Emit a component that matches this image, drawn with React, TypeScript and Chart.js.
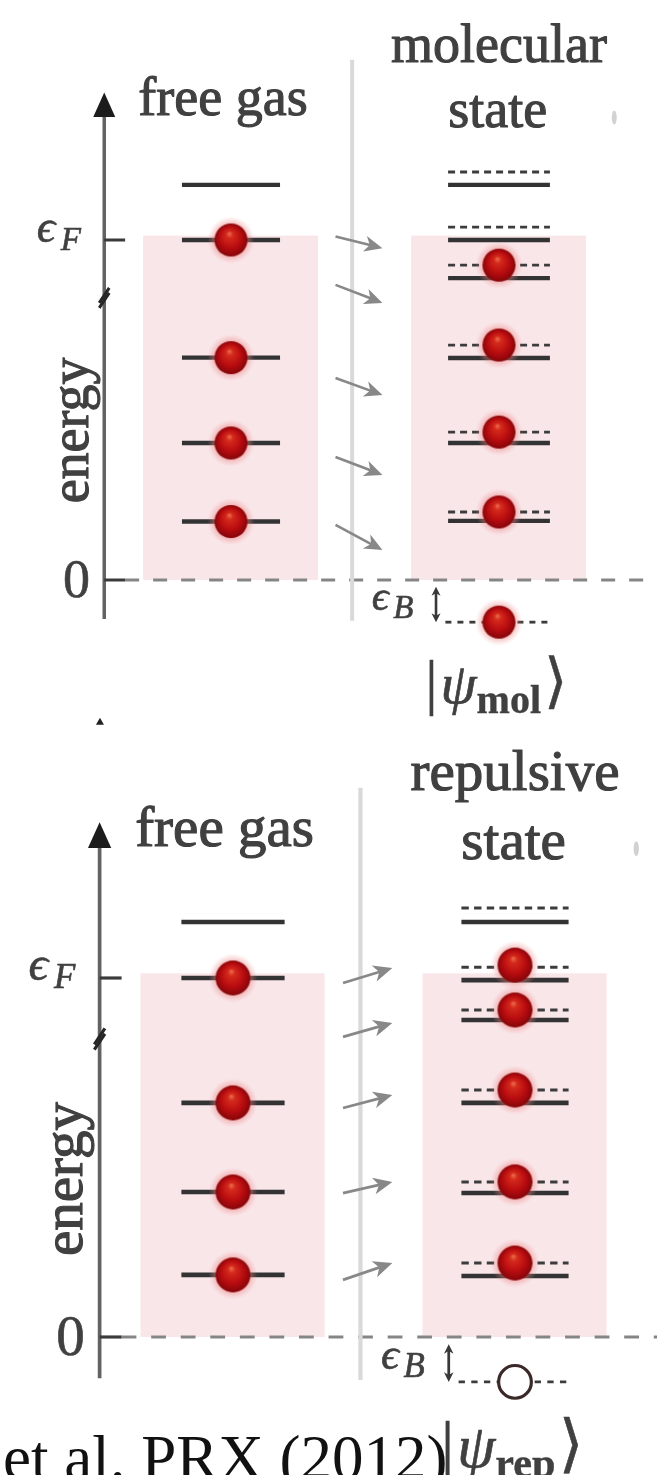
import React, { useEffect, useRef } from "react";
import { Chart, registerables } from "chart.js";

Chart.register(...registerables);

// ---------------- DATA (energies in units of the Fermi energy, 0 = threshold) ----------------
const columnX = [0, 1]; // 0 = free gas column, 1 = interacting-state column
const freeGasTitle = "free gas";
const axisTitle = "energy";
const axisTickValues = [0, 1];
const axisBreakEnergy = 0.83;
const citation = "et al. PRX (2012)";

// top panel: molecular state
const topTitle = ["molecular", "state"];
const topKetSub = "mol";
const topFreeLevels = [1.162, 1.0, 0.654, 0.403, 0.172];
const topFreeParticles = [1.0, 0.654, 0.403, 0.172];
const topSolidLevels = [1.162, 1.0, 0.888, 0.653, 0.403, 0.174];
const topDashedLevels = [1.2, 1.038, 0.926, 0.691, 0.435, 0.2];
const topStateParticles = [0.926, 0.691, 0.435, 0.2];
const topBoundLevel = -0.124;
const topBoundOccupied = true;
const topArrowFrom = [1.01, 0.868, 0.594, 0.362, 0.162];
const topArrowTo = [0.976, 0.815, 0.544, 0.309, 0.088];

// bottom panel: repulsive state
const bottomTitle = ["repulsive", "state"];
const bottomKetSub = "rep";
const bottomFreeLevels = [1.156, 1.0, 0.652, 0.404, 0.173];
const bottomFreeParticles = [1.0, 0.652, 0.404, 0.173];
const bottomSolidLevels = [1.156, 0.994, 0.883, 0.652, 0.401, 0.17];
const bottomDashedLevels = [1.195, 1.03, 0.911, 0.688, 0.432, 0.206];
const bottomStateParticles = [1.036, 0.911, 0.688, 0.432, 0.206];
const bottomBoundLevel = -0.125;
const bottomBoundOccupied = false;
const bottomArrowFrom = [0.986, 0.836, 0.638, 0.401, 0.159];
const bottomArrowTo = [1.028, 0.875, 0.674, 0.432, 0.206];

// ---------------- LAYOUT / STYLE ----------------
const W = 657;
const SERIF = '"Liberation Serif", "DejaVu Serif", serif';
const TEXT = "#404040";

type Panel = {
  title: string[];
  ketSub: string;
  freeLevels: number[];
  freeParticles: number[];
  solid: number[];
  dashed: number[];
  stateParticles: number[];
  bound: number;
  boundOccupied: boolean;
  arrowFrom: number[];
  arrowTo: number[];
  top: number;
  height: number;
  zeroPx: number;
  unitPx: number;
  originPx: number;
  colPx: number;
};

const panels: Panel[] = [
  {
    title: topTitle, ketSub: topKetSub, freeLevels: topFreeLevels, freeParticles: topFreeParticles,
    solid: topSolidLevels, dashed: topDashedLevels, stateParticles: topStateParticles,
    bound: topBoundLevel, boundOccupied: topBoundOccupied, arrowFrom: topArrowFrom, arrowTo: topArrowTo,
    top: 0, height: 737, zeroPx: 580, unitPx: 340, originPx: 231, colPx: 268,
  },
  {
    title: bottomTitle, ketSub: bottomKetSub, freeLevels: bottomFreeLevels, freeParticles: bottomFreeParticles,
    solid: bottomSolidLevels, dashed: bottomDashedLevels, stateParticles: bottomStateParticles,
    bound: bottomBoundLevel, boundOccupied: bottomBoundOccupied, arrowFrom: bottomArrowFrom, arrowTo: bottomArrowTo,
    top: 737, height: 738, zeroPx: 600, unitPx: 359, originPx: 233, colPx: 282,
  },
];

const AXIS_X = -0.473;

function makeSphere(r: number): HTMLCanvasElement {
  const pad = 7;
  const s = Math.ceil((r + pad) * 2);
  const c = document.createElement("canvas");
  c.width = s;
  c.height = s;
  const g = c.getContext("2d")!;
  const cx = s / 2, cy = s / 2;
  const glow = g.createRadialGradient(cx, cy, r * 0.8, cx, cy, r + pad);
  glow.addColorStop(0, "rgba(235,110,110,0.65)");
  glow.addColorStop(1, "rgba(240,150,150,0)");
  g.fillStyle = glow;
  g.beginPath();
  g.arc(cx, cy, r + pad, 0, Math.PI * 2);
  g.fill();
  const sph = g.createRadialGradient(cx - r * 0.1, cy - r * 0.4, 0, cx, cy, r * 1.05);
  sph.addColorStop(0, "#ee7250");
  sph.addColorStop(0.2, "#d42a1c");
  sph.addColorStop(0.62, "#b80c10");
  sph.addColorStop(1, "#7e0509");
  g.fillStyle = sph;
  g.beginPath();
  g.arc(cx, cy, r, 0, Math.PI * 2);
  g.fill();
  return c;
}

function line(ctx: CanvasRenderingContext2D, x1: number, y1: number, x2: number, y2: number) {
  ctx.beginPath();
  ctx.moveTo(x1, y1);
  ctx.lineTo(x2, y2);
  ctx.stroke();
}

function arrowHead(ctx: CanvasRenderingContext2D, x1: number, y1: number, x2: number, y2: number, len: number, half: number, color: string) {
  const a = Math.atan2(y2 - y1, x2 - x1);
  ctx.save();
  ctx.translate(x2, y2);
  ctx.rotate(a);
  ctx.beginPath();
  ctx.moveTo(0, 0);
  ctx.lineTo(-len, -half);
  ctx.lineTo(-len * 0.72, 0);
  ctx.lineTo(-len, half);
  ctx.closePath();
  ctx.fillStyle = color;
  ctx.fill();
  ctx.restore();
}

function heavyText(ctx: CanvasRenderingContext2D, s: string, x: number, y: number, w: number) {
  ctx.fillText(s, x, y);
  ctx.lineWidth = w;
  ctx.strokeText(s, x, y);
}

function makePlugin(p: Panel) {
  const k = p.unitPx / 340;
  return {
    id: "levelDiagram",
    beforeDatasetsDraw(chart: any) {
      const ctx: CanvasRenderingContext2D = chart.ctx;
      const X = (v: number) => chart.scales.x.getPixelForValue(v);
      const Y = (v: number) => chart.scales.y.getPixelForValue(v);
      ctx.save();
      ctx.lineCap = "butt";

      // shaded Fermi sea
      ctx.fillStyle = "#f9e6e9";
      for (const c of columnX) {
        const x0 = X(c - 0.328), x1 = X(c + 0.325);
        ctx.fillRect(x0, Y(1.013), x1 - x0, Y(0) - Y(1.013));
      }

      // zero (threshold) dashed line
      ctx.strokeStyle = "#858585";
      ctx.lineWidth = 3 * k;
      ctx.setLineDash([14 * k, 14 * k]);
      line(ctx, X(AXIS_X + 0.078), Y(0), chart.width, Y(0));
      ctx.setLineDash([]);

      // divider
      ctx.strokeStyle = "#d9d9d9";
      ctx.lineWidth = 4 * k;
      line(ctx, X(0.452), Y(1.53), X(0.452), Y(-0.12));

      // energy axis
      const ax = X(AXIS_X);
      ctx.strokeStyle = "#626262";
      ctx.lineWidth = 3.5 * k;
      line(ctx, ax, Y(-0.115), ax, Y(1.37));
      ctx.fillStyle = "#1c1c1c";
      ctx.beginPath();
      ctx.moveTo(ax, Y(1.434));
      ctx.lineTo(ax - 11 * k, Y(1.362));
      ctx.lineTo(ax + 11 * k, Y(1.362));
      ctx.closePath();
      ctx.fill();
      // ticks
      ctx.strokeStyle = "#3a3a3a";
      ctx.lineWidth = 3 * k;
      for (const t of axisTickValues) line(ctx, ax, Y(t), X(AXIS_X + 0.078), Y(t));
      // axis break
      ctx.strokeStyle = "#262626";
      ctx.lineWidth = 3 * k;
      const yb = Y(axisBreakEnergy);
      line(ctx, ax - 5 * k, yb + 5 * k, ax + 5 * k, yb - 10 * k);
      line(ctx, ax - 5 * k, yb + 10 * k, ax + 5 * k, yb - 5 * k);
      // stray mark at bottom-left of upper panel
      if (p.top === 0) {
        ctx.fillStyle = "#222";
        ctx.beginPath();
        ctx.moveTo(X(-0.489), Y(-0.405));
        ctx.lineTo(X(-0.489) - 4, Y(-0.405) + 7);
        ctx.lineTo(X(-0.489) + 4, Y(-0.405) + 7);
        ctx.closePath();
        ctx.fill();
      }
      // faint clipped glyph at right edge
      ctx.fillStyle = "#d2d2d2";
      ctx.beginPath();
      ctx.ellipse(X(1.43), Y(1.36), 2.5 * k, 7 * k, 0, 0, Math.PI * 2);
      ctx.fill();

      // free gas levels
      ctx.strokeStyle = "#333333";
      ctx.lineWidth = 4.4 * k;
      for (const e of p.freeLevels) line(ctx, X(columnX[0] - 0.183), Y(e), X(columnX[0] + 0.183), Y(e));
      // state levels
      for (const e of p.solid) line(ctx, X(columnX[1] - 0.19), Y(e), X(columnX[1] + 0.19), Y(e));
      ctx.strokeStyle = "#3c3c3c";
      ctx.lineWidth = 2.8 * k;
      ctx.setLineDash([7 * k, 5 * k]);
      for (const e of p.dashed) line(ctx, X(columnX[1] - 0.19), Y(e), X(columnX[1] + 0.19), Y(e));
      // bound level
      ctx.setLineDash([6 * k, 6 * k]);
      line(ctx, X(columnX[1] - 0.2), Y(p.bound), X(columnX[1] + 0.19), Y(p.bound));
      ctx.setLineDash([]);

      // epsilon_B double arrow
      const xb = X(0.765);
      ctx.strokeStyle = "#383838";
      ctx.lineWidth = 2.6 * k;
      line(ctx, xb, Y(-0.02) + 5 * k, xb, Y(p.bound) - 5 * k);
      arrowHead(ctx, xb, Y(-0.06), xb, Y(-0.02), 9 * k, 4.5 * k, "#383838");
      arrowHead(ctx, xb, Y(-0.06), xb, Y(p.bound), 9 * k, 4.5 * k, "#383838");

      // transfer arrows
      const xa0 = X(0.39), xa1 = X(0.565);
      ctx.strokeStyle = "#888888";
      ctx.lineWidth = 2.6 * k;
      p.arrowFrom.forEach((e0, i) => {
        const y0 = Y(e0), y1 = Y(p.arrowTo[i]);
        const f = 0.8;
        line(ctx, xa0, y0, xa0 + (xa1 - xa0) * f, y0 + (y1 - y0) * f);
        arrowHead(ctx, xa0, y0, xa1, y1, 18 * k, 8 * k, "#888888");
      });

      // texts
      ctx.fillStyle = TEXT;
      ctx.strokeStyle = TEXT;
      ctx.lineJoin = "round";
      ctx.textBaseline = "alphabetic";
      ctx.font = `${54 * k}px ${SERIF}`;
      ctx.textAlign = "center";
      heavyText(ctx, freeGasTitle, X(-0.03), Y(1.367), 1.1 * k);
      heavyText(ctx, p.title[0], X(1.0), Y(1.524), 1.1 * k);
      heavyText(ctx, p.title[1], X(0.995), Y(1.332), 1.1 * k);
      ctx.textAlign = "right";
      heavyText(ctx, "0", X(-0.526), Y(-0.05), 0.6 * k);
      // energy (rotated)
      ctx.save();
      ctx.translate(X(-0.534), Y(0.44));
      ctx.rotate(-Math.PI / 2);
      ctx.textAlign = "center";
      heavyText(ctx, axisTitle, 0, 0, 1.1 * k);
      ctx.restore();
      // epsilon_F
      ctx.textAlign = "left";
      ctx.font = `italic ${46 * k}px ${SERIF}`;
      heavyText(ctx, "ϵ", X(-0.725), Y(0.994), 0.6 * k);
      ctx.font = `italic ${33 * k}px ${SERIF}`;
      heavyText(ctx, "F", X(-0.635), Y(0.972), 0.6 * k);
      // epsilon_B
      ctx.font = `italic ${42 * k}px ${SERIF}`;
      heavyText(ctx, "ϵ", X(0.525), Y(-0.088), 0.6 * k);
      ctx.font = `italic ${33 * k}px ${SERIF}`;
      heavyText(ctx, "B", X(0.605), Y(-0.112), 0.6 * k);

      // ket |psi_sub>
      const fBar = `${62 * k}px ${SERIF}`;
      const fPsi = `italic ${58 * k}px ${SERIF}`;
      const fSub = `bold ${40 * k}px ${SERIF}`;
      const fAng = `${60 * k}px "DejaVu Serif", ${SERIF}`;
      ctx.font = fBar; const wBar = ctx.measureText("|").width;
      ctx.font = fPsi; const wPsi = ctx.measureText("ψ").width;
      ctx.font = fSub; const wSub = ctx.measureText(p.ketSub).width;
      ctx.font = fAng; const wAng = ctx.measureText("⟩").width;
      const g1 = 3 * k, g2 = 0 * k, g3 = 3 * k;
      let x = X(0.99) - (wBar + g1 + wPsi + g2 + wSub + g3 + wAng) / 2;
      const yk = Y(-0.362);
      ctx.font = fBar; heavyText(ctx, "|", x, yk, 0.5 * k); x += wBar + g1;
      ctx.font = fPsi; heavyText(ctx, "ψ", x, yk, 0.6 * k); x += wPsi + g2;
      ctx.font = fSub; heavyText(ctx, p.ketSub, x, Y(-0.39), 0.4 * k); x += wSub + g3;
      ctx.font = fAng; heavyText(ctx, "⟩", x, yk - 2 * k, 0.5 * k);

      ctx.restore();
    },
  };
}

function PanelChart({ p }: { p: Panel }) {
  const ref = useRef<HTMLCanvasElement | null>(null);
  useEffect(() => {
    if (!ref.current) return;
    const k = p.unitPx / 340;
    const sphere = makeSphere(16.5 * k);
    const chart = new Chart(ref.current, {
      type: "scatter",
      data: {
        datasets: [
          {
            data: p.freeParticles.map((e) => ({ x: columnX[0], y: e })),
            pointStyle: sphere as any,
            pointRadius: 17 * k,
            showLine: false,
            clip: false as any,
          },
          {
            data: p.stateParticles.map((e) => ({ x: columnX[1], y: e })),
            pointStyle: sphere as any,
            pointRadius: 17 * k,
            showLine: false,
            clip: false as any,
          },
          {
            data: [{ x: columnX[1], y: p.bound }],
            pointStyle: p.boundOccupied ? (sphere as any) : "circle",
            pointRadius: 15.5 * k,
            pointBackgroundColor: "#ffffff",
            pointBorderColor: "#3b2828",
            pointBorderWidth: 3 * k,
            showLine: false,
            clip: false as any,
          },
        ],
      },
      options: {
        responsive: false,
        animation: false,
        devicePixelRatio: 1,
        events: [],
        layout: { padding: 0, autoPadding: false } as any,
        plugins: { legend: { display: false }, tooltip: { enabled: false }, title: { display: false } },
        scales: {
          x: {
            type: "linear",
            display: false,
            min: -p.originPx / p.colPx,
            max: (W - p.originPx) / p.colPx,
          },
          y: {
            type: "linear",
            display: false,
            min: (p.zeroPx - p.height) / p.unitPx,
            max: p.zeroPx / p.unitPx,
          },
        },
      },
      plugins: [makePlugin(p)],
    });
    return () => chart.destroy();
  }, [p]);
  return (
    <canvas
      ref={ref}
      width={W}
      height={p.height}
      style={{ position: "absolute", left: 0, top: p.top, width: W, height: p.height, filter: "blur(0.7px)" }}
    />
  );
}

export default function App() {
  return (
    <div
      style={{
        position: "absolute",
        left: 0,
        top: 0,
        width: W,
        height: 1475,
        overflow: "hidden",
        background: "#ffffff",
      }}
    >
      {panels.map((p, i) => (
        <PanelChart key={i} p={p} />
      ))}
      <div
        style={{
          position: "absolute",
          left: 3,
          top: 1427,
          fontFamily: SERIF,
          fontSize: 63,
          lineHeight: 1,
          color: "#111",
          whiteSpace: "nowrap",
        }}
      >
        {citation}
      </div>
    </div>
  );
}
